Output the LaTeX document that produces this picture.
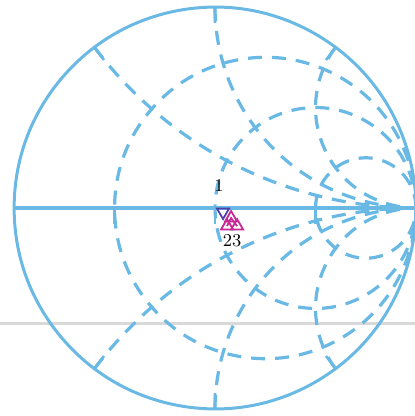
\documentclass[border=0pt]{standalone}
\usepackage{pgfplots}
\pgfplotsset{compat=1.18}
\usepgfplotslibrary{smithchart}
\definecolor{sky}{RGB}{105,185,228}
\definecolor{mag}{RGB}{200,40,150}
\definecolor{pur}{RGB}{80,60,170}
\begin{document}
\begin{tikzpicture}
\useasboundingbox (-107.5pt,-104pt) rectangle (100pt,104pt);
\begin{scope}
\clip (-107.5pt,-104pt) rectangle (100pt,104pt);
\draw[gray!30, line width=1.5pt] (-107.5pt,-58pt) -- (100pt,-58pt);
\begin{smithchart}[
  at={(0,0)}, anchor=center,
  scale only axis, width=201pt, height=201pt,
  xtick={0.3333,1,3},
  ytick={-2,-1,-0.5,0.5,1,2},
  xticklabels={,,}, yticklabels={,,,,,},
  axis line style={sky, line width=1.5pt},
  grid style={sky, line width=1.6pt, dash pattern=on 7pt off 5pt},
  tick align=inside,
  major tick length=8pt,
  major tick style={sky, line width=1.3pt},
  tick style={sky, line width=1.3pt},
]
\addplot[is smithchart cs, sky, line width=1.5pt] coordinates {(-1,0) (1,0)};
\addplot[is smithchart cs, mag, line width=0.9pt, mark=triangle, mark size=3.5pt] coordinates {(0.06,-0.09) (0.08,-0.05) (0.11,-0.09)};
\addplot[is smithchart cs, pur, line width=0.9pt, mark=triangle, mark size=3.5pt, mark options={rotate=180}] coordinates {(0.04,-0.02)};
\end{smithchart}
\node[font=\small] at (2pt,11pt) {1};
\node[font=\small] at (8.5pt,-16.5pt) {23};
\end{scope}
\end{tikzpicture}
\end{document}
